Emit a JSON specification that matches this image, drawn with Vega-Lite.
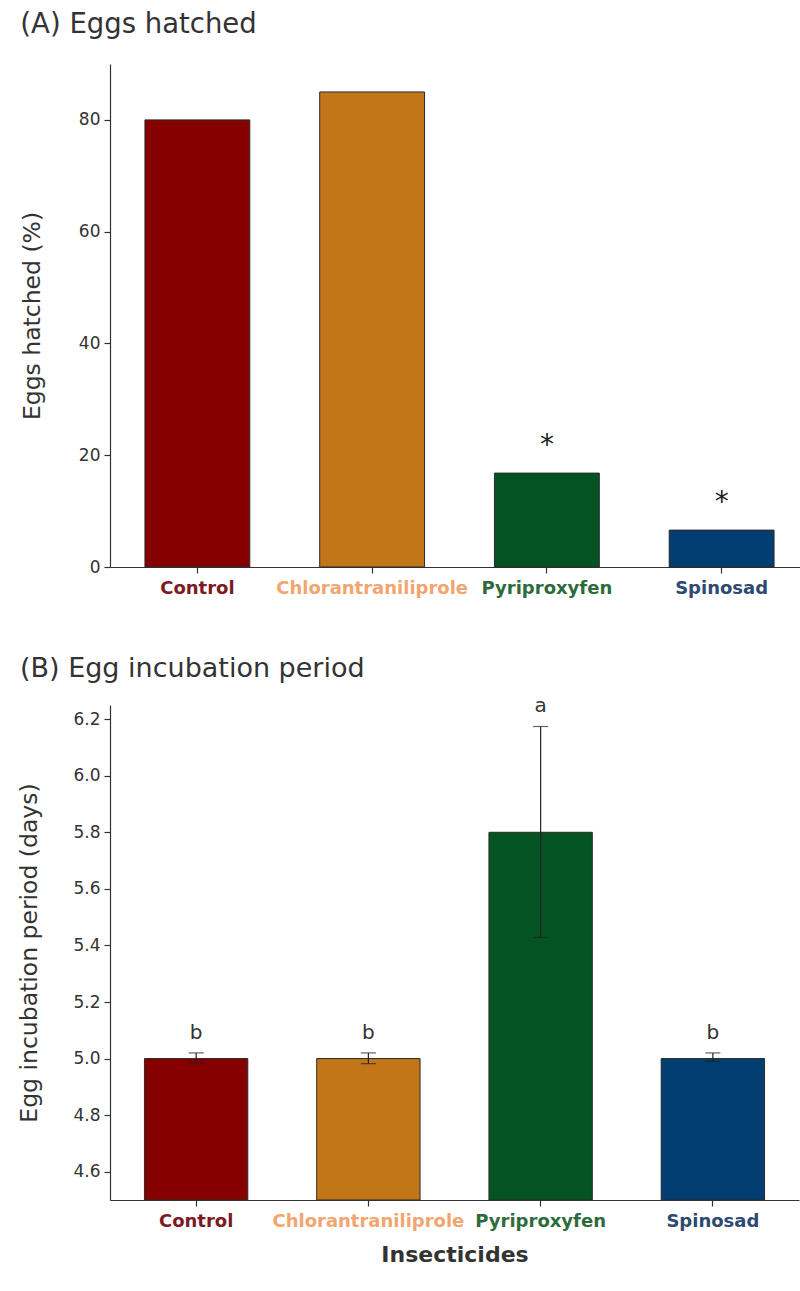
{
  "$schema": "https://vega.github.io/schema/vega-lite/v6.json",
  "background": "white",
  "padding": {"left": 17, "top": 11, "right": 0, "bottom": 5},
  "config": {
    "font": "DejaVu Sans",
    "view": {"stroke": null},
    "axis": {"domainColor": "#333333", "tickColor": "#333333", "labelColor": "#333333", "titleColor": "#333333", "grid": false, "labelFont": "DejaVu Sans", "titleFont": "DejaVu Sans", "titleFontWeight": "normal", "domainWidth": 1.2, "tickWidth": 1.2, "labelLimit": 400},
    "title": {"font": "DejaVu Sans", "fontWeight": "normal", "color": "#333333", "anchor": "start"}
  },
  "data": {"values": [
    {"insecticide": "Control", "hatched": 80, "sig": "", "incubation": 5.0, "lower": 4.985, "upper": 5.02, "letter": "b"},
    {"insecticide": "Chlorantraniliprole", "hatched": 85, "sig": "", "incubation": 5.0, "lower": 4.982, "upper": 5.02, "letter": "b"},
    {"insecticide": "Pyriproxyfen", "hatched": 16.8, "sig": "*", "incubation": 5.8, "lower": 5.428, "upper": 6.174, "letter": "a"},
    {"insecticide": "Spinosad", "hatched": 6.6, "sig": "*", "incubation": 5.0, "lower": 4.99, "upper": 5.02, "letter": "b"}
  ]},
  "spacing": 58,
  "vconcat": [
    {
      "title": {"text": "(A) Eggs hatched", "fontSize": 27.5, "frame": "bounds", "offset": 12},
      "width": 699,
      "height": 503,
      "layer": [
        {
          "mark": {"type": "bar", "stroke": "#2a2a2a", "strokeWidth": 1},
          "encoding": {
            "x": {"field": "insecticide", "type": "nominal", "sort": null,
              "scale": {"paddingInner": 0.4, "paddingOuter": 0.2},
              "axis": {"title": null, "labelAngle": 0, "labelFontSize": 18, "labelFontWeight": "bold", "tickSize": 6, "labelPadding": 6,
                "labelColor": {"expr": "datum.value === 'Control' ? '#7d1a24' : datum.value === 'Chlorantraniliprole' ? '#f2a56e' : datum.value === 'Pyriproxyfen' ? '#2e6b3c' : '#2c4a72'"}}},
            "y": {"field": "hatched", "type": "quantitative",
              "scale": {"domain": [0, 90], "nice": false},
              "axis": {"title": "Eggs hatched (%)", "values": [0, 20, 40, 60, 80], "titleFontSize": 23.5, "labelFontSize": 17, "tickSize": 6, "labelPadding": 4, "titlePadding": 34}},
            "color": {"field": "insecticide", "type": "nominal",
              "scale": {"domain": ["Control", "Chlorantraniliprole", "Pyriproxyfen", "Spinosad"], "range": ["#860000", "#c37618", "#045322", "#033e73"]},
              "legend": null}
          }
        },
        {
          "mark": {"type": "text", "fontSize": 28, "dy": -27, "color": "#222222"},
          "encoding": {
            "x": {"field": "insecticide", "type": "nominal", "sort": null},
            "y": {"field": "hatched", "type": "quantitative"},
            "text": {"field": "sig"}
          }
        }
      ]
    },
    {
      "title": {"text": "(B) Egg incubation period", "fontSize": 27, "frame": "bounds", "offset": 13, "dx": 2},
      "width": 689,
      "height": 495,
      "layer": [
        {
          "mark": {"type": "bar", "stroke": "#2a2a2a", "strokeWidth": 1, "clip": true},
          "encoding": {
            "x": {"field": "insecticide", "type": "nominal", "sort": null,
              "scale": {"paddingInner": 0.4, "paddingOuter": 0.2},
              "axis": {"title": "Insecticides", "titleFontSize": 22, "titleFontWeight": "bold", "titlePadding": 14, "labelAngle": 0, "labelFontSize": 18, "labelFontWeight": "bold", "tickSize": 6, "labelPadding": 6,
                "labelColor": {"expr": "datum.value === 'Control' ? '#7d1a24' : datum.value === 'Chlorantraniliprole' ? '#f2a56e' : datum.value === 'Pyriproxyfen' ? '#2e6b3c' : '#2c4a72'"}}},
            "y": {"field": "incubation", "type": "quantitative",
              "scale": {"domain": [4.5, 6.25], "nice": false, "zero": false},
              "axis": {"title": "Egg incubation period (days)", "values": [4.6, 4.8, 5.0, 5.2, 5.4, 5.6, 5.8, 6.0, 6.2], "format": ".1f", "titleFontSize": 23.5, "labelFontSize": 17, "tickSize": 6, "labelPadding": 4, "titlePadding": 31}},
            "y2": {"datum": 4.5},
            "color": {"field": "insecticide", "type": "nominal",
              "scale": {"domain": ["Control", "Chlorantraniliprole", "Pyriproxyfen", "Spinosad"], "range": ["#860000", "#c37618", "#045322", "#033e73"]},
              "legend": null}
          }
        },
        {
          "mark": {"type": "rule", "color": "#222222", "strokeWidth": 1.2},
          "encoding": {
            "x": {"field": "insecticide", "type": "nominal", "sort": null},
            "y": {"field": "lower", "type": "quantitative"},
            "y2": {"field": "upper"}
          }
        },
        {
          "mark": {"type": "tick", "color": "#222222", "thickness": 1.2, "size": 15},
          "encoding": {
            "x": {"field": "insecticide", "type": "nominal", "sort": null},
            "y": {"field": "lower", "type": "quantitative"}
          }
        },
        {
          "mark": {"type": "tick", "color": "#222222", "thickness": 1.2, "size": 15},
          "encoding": {
            "x": {"field": "insecticide", "type": "nominal", "sort": null},
            "y": {"field": "upper", "type": "quantitative"}
          }
        },
        {
          "mark": {"type": "text", "fontSize": 20, "dy": -20, "color": "#333333"},
          "encoding": {
            "x": {"field": "insecticide", "type": "nominal", "sort": null},
            "y": {"field": "upper", "type": "quantitative"},
            "text": {"field": "letter"}
          }
        }
      ]
    }
  ]
}
